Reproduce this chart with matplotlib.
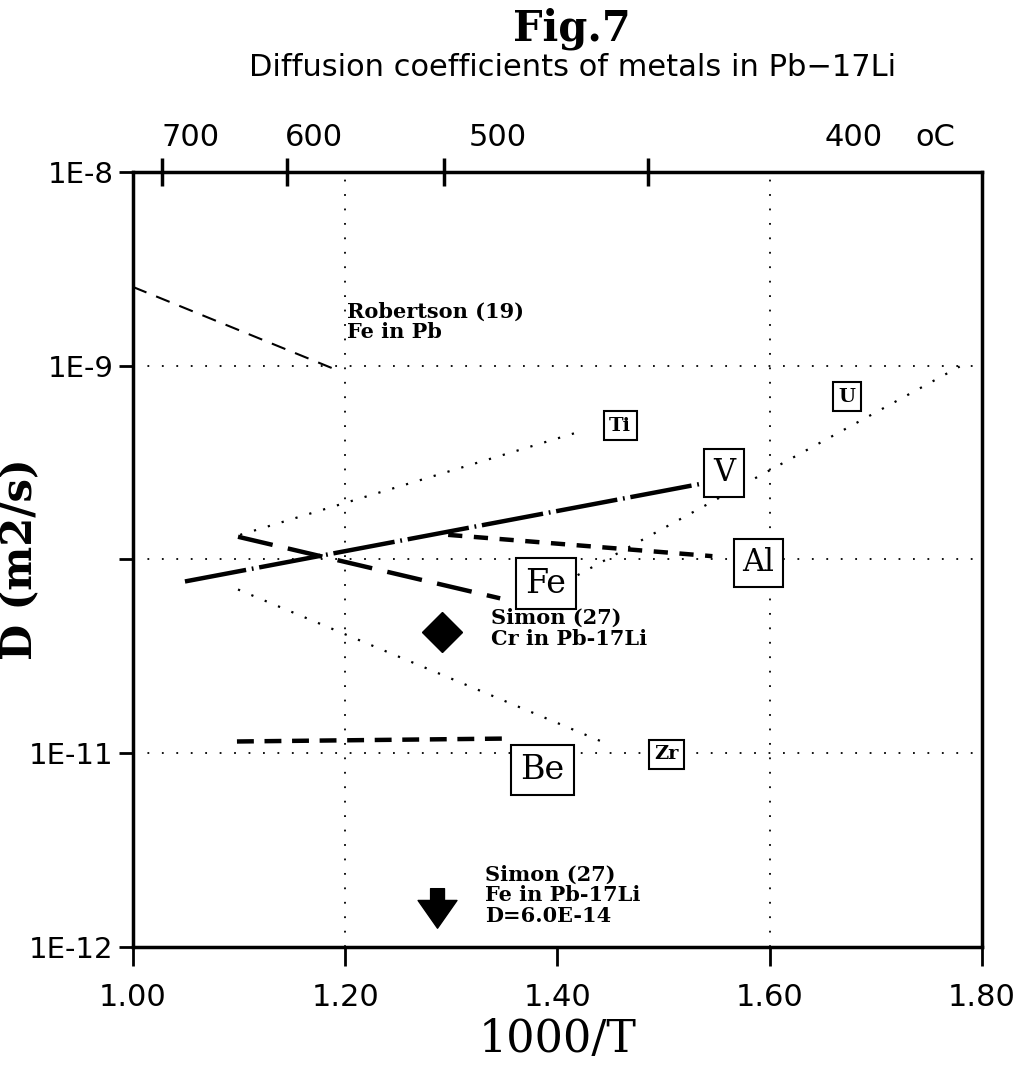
import numpy as np
import matplotlib
matplotlib.use('Agg')
import matplotlib.pyplot as plt

# 1000/T endpoints and D endpoints (m2/s) of each line
rob_x = [1.00, 1.19]
rob_d = [2.55e-9, 9.6e-10]
fe_x = [1.099, 1.346]
fe_d = [1.31e-10, 6.3e-11]
v_x = [1.049, 1.539]
v_d = [7.7e-11, 2.48e-10]
al_x = [1.297, 1.546]
al_d = [1.34e-10, 1.04e-10]
ti_x = [1.101, 1.417]
ti_d = [1.34e-10, 4.5e-10]
u_x = [1.419, 1.779]
u_d = [8.3e-11, 9.9e-10]
zr_x = [1.099, 1.45]
zr_d = [7.0e-11, 1.1e-11]
be_x = [1.098, 1.348]
be_d = [1.15e-11, 1.19e-11]
cr_x = [1.291]
cr_d = [4.2e-11]
arrow_x = 1.287
arrow_d = [2.0e-12, 1.25e-12]

celsius = [700, 600, 500, 400]
ytick_vals = [1e-8, 1e-9, 1e-10, 1e-11, 1e-12]
ytick_labels = ['1E-8', '1E-9', '', '1E-11', '1E-12']
xtick_vals = [1.00, 1.20, 1.40, 1.60, 1.80]

serif = 'DejaVu Serif'
sans = 'DejaVu Sans'

fig = plt.figure(figsize=(10.18, 10.72), dpi=100)
ax = fig.add_axes([0.1306, 0.1166, 0.834, 0.723])
ax.set_yscale('log')
ax.set_xlim(1.0, 1.8)
ax.set_ylim(1e-12, 1e-8)

# grid
for gx in [1.2, 1.6]:
    ax.plot([gx, gx], [1e-12, 1e-8], color='black', lw=1.3, dashes=(1, 7), zorder=1)
for gy in [1e-9, 1e-10, 1e-11]:
    ax.plot([1.0, 1.8], [gy, gy], color='black', lw=1.3, dashes=(1, 7), zorder=1)

ax.plot(rob_x, rob_d, color='black', lw=1.5, dashes=(7, 5))
ax.plot(fe_x, fe_d, color='black', lw=3.2, dashes=(8, 3.5))
ax.plot(v_x, v_d, color='black', lw=3.2, dashes=(14, 1.3, 0.4, 1.3))
ax.plot(al_x, al_d, color='black', lw=3.2, dashes=(3.2, 2.6))
ax.plot(be_x, be_d, color='black', lw=3.2, dashes=(3.8, 2.4))
ax.plot(ti_x, ti_d, color='black', lw=1.6, dashes=(1, 5.5))
ax.plot(u_x, u_d, color='black', lw=1.6, dashes=(1, 5.5))
ax.plot(zr_x, zr_d, color='black', lw=1.6, dashes=(1, 5.5))
ax.plot(cr_x, cr_d, marker='D', color='black', markersize=20, ls='none')
ax.annotate('', xy=(arrow_x, arrow_d[1]), xytext=(arrow_x, arrow_d[0]),
            arrowprops=dict(width=10, headwidth=28, headlength=20, facecolor='black',
                            edgecolor='black', shrink=0))

# boxed element labels
box = dict(boxstyle='square,pad=0.28', fc='white', ec='black', lw=1.5)
labels = [('Ti', 1.459, 4.9e-10, 14), ('V', 1.557, 2.8e-10, 22), ('U', 1.673, 6.9e-10, 14),
          ('Al', 1.589, 9.6e-11, 22), ('Fe', 1.389, 7.5e-11, 24), ('Be', 1.386, 8.2e-12, 24),
          ('Zr', 1.503, 9.9e-12, 14)]
for t, x, y, fs in labels:
    ax.text(x, y, t, ha='center', va='center', fontsize=fs, fontfamily=serif,
            fontweight='bold' if fs < 16 else 'normal', bbox=box, zorder=5)

ax.text(1.202, 1.68e-9, 'Robertson (19)\nFe in Pb', fontsize=15, fontfamily=serif,
        fontweight='bold', ha='left', va='center', linespacing=1.05)
ax.text(1.337, 4.4e-11, 'Simon (27)\nCr in Pb-17Li', fontsize=15, fontfamily=serif,
        fontweight='bold', ha='left', va='center', linespacing=1.05)
ax.text(1.332, 1.85e-12, 'Simon (27)\nFe in Pb-17Li\nD=6.0E-14', fontsize=15, fontfamily=serif,
        fontweight='bold', ha='left', va='center', linespacing=1.05)

# axes styling
for s in ax.spines.values():
    s.set_linewidth(2.5)
ax.set_xticks(xtick_vals)
ax.set_xticklabels(['%.2f' % v for v in xtick_vals], fontsize=22, fontfamily=sans)
ax.set_yticks(ytick_vals)
ax.set_yticklabels(ytick_labels, fontsize=21, fontfamily=sans)
ax.yaxis.set_minor_locator(matplotlib.ticker.NullLocator())
ax.tick_params(axis='x', direction='out', length=14, width=2, pad=12)
ax.tick_params(axis='y', direction='out', length=10, width=2, pad=4)
ax.set_xlabel('1000/T', fontsize=32, fontfamily=serif, labelpad=4)
ax.set_ylabel('D (m2/s)', fontsize=30, fontfamily=serif, fontweight='bold')
ax.yaxis.set_label_coords(-0.108, 0.5)

# top temperature axis
top = ax.secondary_xaxis('top', functions=(lambda x: x, lambda x: x))
top.set_xticks([1000.0 / (c + 273.15) for c in celsius])
top.set_xticklabels([])
top.tick_params(direction='inout', length=20, width=2.5)
for c, tx in zip(celsius, [1.054, 1.171, 1.344, 1.679]):
    ax.text(tx, 1.0 + 0.045, str(c), transform=ax.get_xaxis_transform(), ha='center',
            va='center', fontsize=22, fontfamily=sans)
ax.text(1.756, 1.045, 'oC', transform=ax.get_xaxis_transform(), ha='center', va='center',
        fontsize=22, fontfamily=sans)

fig.text(0.562, 0.973, 'Fig.7', ha='center', va='center', fontsize=30, fontfamily=serif,
         fontweight='bold')
fig.text(0.562, 0.937, 'Diffusion coefficients of metals in Pb\u221217Li', ha='center',
         va='center', fontsize=22, fontfamily=sans)

fig.savefig('out.png', dpi=100)
